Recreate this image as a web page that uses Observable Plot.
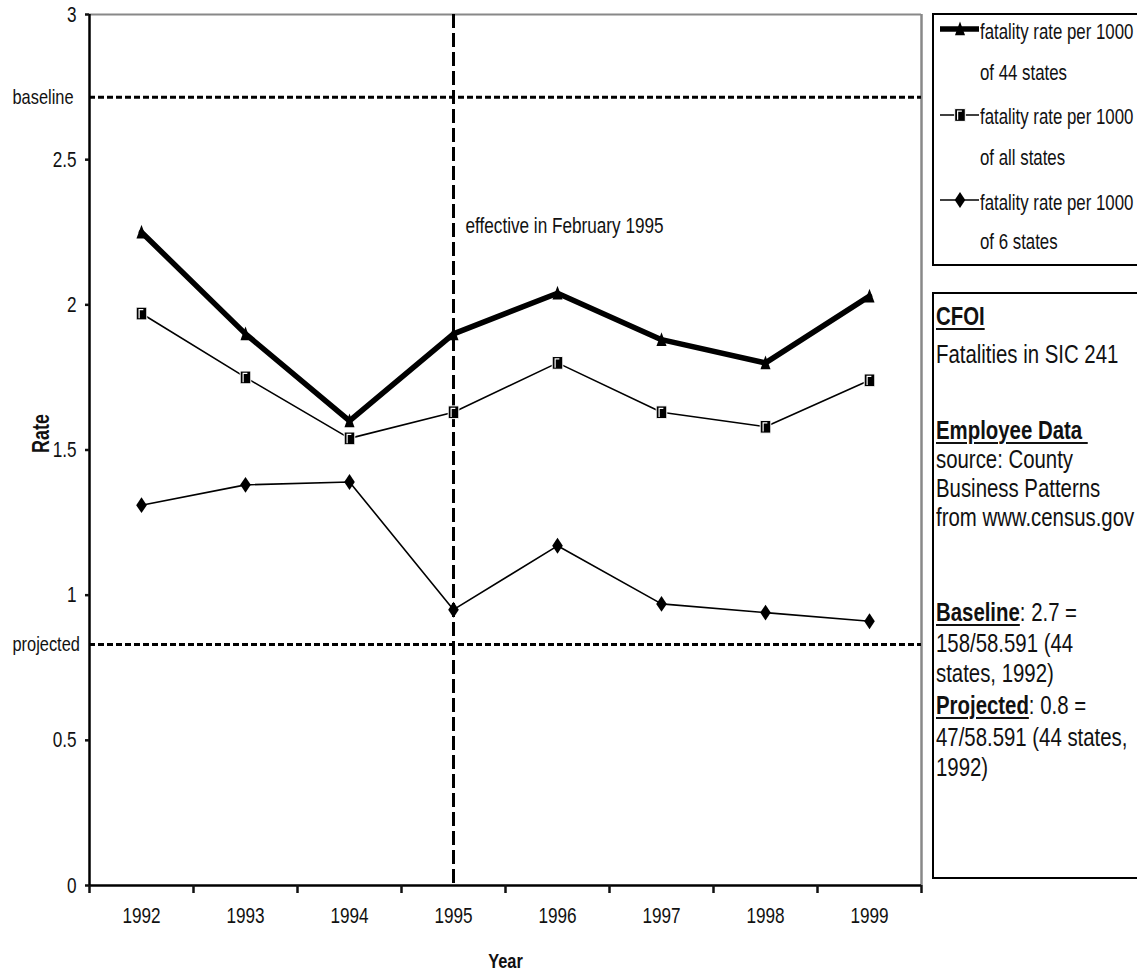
<!DOCTYPE html>
<html><head><meta charset="utf-8">
<script src="https://cdn.jsdelivr.net/npm/d3@7"></script>
<script src="https://cdn.jsdelivr.net/npm/@observablehq/plot@0.6"></script>
<style>
html,body{margin:0;padding:0;background:#fff;overflow:hidden;width:1137px;height:979px;}
body{position:relative;font-family:"Liberation Sans Narrow","Arial Narrow","Liberation Sans",Arial,sans-serif;color:#111;}
#chart{position:absolute;left:0;top:0;}
.box{position:absolute;border:2px solid #000;background:#fff;box-sizing:border-box;}
.ln{position:absolute;white-space:nowrap;line-height:1;transform-origin:0 50%;}
.u{text-decoration:underline;text-decoration-thickness:2px;text-underline-offset:3px;font-weight:bold;}
</style></head><body>
<div id="chart"></div>
<div id="legend" class="box" style="left:932px;top:13px;width:240px;height:253px;"></div>
<div id="notes" class="box" style="left:932px;top:292px;width:240px;height:587px;"></div>
<div id="texts"></div>
<script>
// ---- data ----
const years = [1992, 1993, 1994, 1995, 1996, 1997, 1998, 1999];
const rate44 = [2.25, 1.90, 1.60, 1.90, 2.04, 1.88, 1.80, 2.03];
const rateAll = [1.97, 1.75, 1.54, 1.63, 1.80, 1.63, 1.58, 1.74];
const rate6 = [1.31, 1.38, 1.39, 0.95, 1.17, 0.97, 0.94, 0.91];
const yTicks = [0, 0.5, 1, 1.5, 2, 2.5, 3];
const legendLines = [["fatality rate per 1000", "of 44 states"], ["fatality rate per 1000", "of all states"], ["fatality rate per 1000", "of 6 states"]];
const baselineValue = 2.715;
const projectedValue = 0.83;
const effectiveYear = 1995;
const effectiveLabel = "effective in February 1995";
const effectiveLabelY = 2.27;
const notesLines = [
  {html: '<span class="u">CFOI</span>', c: 316},
  {html: 'Fatalities in SIC 241', c: 354},
  {html: '<span class="u">Employee Data&nbsp;</span>', c: 430},
  {html: 'source: County', c: 459},
  {html: 'Business Patterns', c: 488},
  {html: 'from www.census.gov', c: 517},
  {html: '<span class="u">Baseline</span>: 2.7 =', c: 612},
  {html: '158/58.591 (44', c: 643},
  {html: 'states, 1992)', c: 673},
  {html: '<span class="u">Projected</span>: 0.8 =', c: 705},
  {html: '47/58.591 (44 states,', c: 737},
  {html: '1992)', c: 767}
];

const FONT = '"Liberation Sans Narrow","Arial Narrow","Liberation Sans",Arial,sans-serif';
const NARROW = 0.78;   // horizontal condensing to mimic a narrow face

// ---- symbols ----
const triSym = {draw(ctx, size){const s=Math.sqrt(size/Math.PI);ctx.moveTo(0,-1.4*s);ctx.lineTo(0.95*s,1.2*s);ctx.lineTo(-0.95*s,1.2*s);ctx.closePath();}};
const sqSym = {draw(ctx, size){const s=Math.sqrt(size/Math.PI);ctx.rect(-s,-1.2*s,2*s,2.4*s);}};
const gamSym = {draw(ctx, size){const s=Math.sqrt(size/Math.PI);ctx.moveTo(-0.45*s,0.9*s);ctx.lineTo(-0.45*s,-0.75*s);ctx.lineTo(0.35*s,-0.75*s);}};
const diaSym = {draw(ctx, size){const s=Math.sqrt(size/Math.PI);ctx.moveTo(0,-1.5*s);ctx.lineTo(s,0);ctx.lineTo(0,1.5*s);ctx.lineTo(-s,0);ctx.closePath();}};

const rows = years.map((yr, i) => ({year: yr, r44: rate44[i], rAll: rateAll[i], r6: rate6[i]}));
const bounds = d3.range(years.length + 1).map(i => years[0] - 0.5 + i);
const R = 5.3;

const chart = Plot.plot({
  width: 1137, height: 979,
  marginLeft: 89, marginRight: 216, marginTop: 14, marginBottom: 94,
  x: {domain: [bounds[0], bounds[bounds.length - 1]]},
  y: {domain: [0, 3]},
  style: {fontFamily: FONT, fontSize: "22px", color: "#111", background: "transparent", overflow: "visible"},
  marks: [
    Plot.ruleY([3], {stroke: "#888", strokeWidth: 2}),
    Plot.ruleX([bounds[bounds.length - 1]], {stroke: "#888", strokeWidth: 2.5}),
    Plot.ruleY([baselineValue, projectedValue], {stroke: "#000", strokeWidth: 3, strokeDasharray: "6,3"}),
    Plot.ruleX([effectiveYear], {stroke: "#000", strokeWidth: 3, strokeDasharray: "14,5"}),
    Plot.ruleX([bounds[0]], {stroke: "#000", strokeWidth: 2.5}),
    Plot.ruleY([0], {stroke: "#000", strokeWidth: 2.5}),
    Plot.axisY({ticks: yTicks, tickSize: 4, tickPadding: 9, tickFormat: d => String(d), strokeWidth: 2.5, label: null, fontSize: 22}),
    Plot.axisX({ticks: bounds, tickSize: 8, tickFormat: () => "", strokeWidth: 2.5, label: null}),
    Plot.axisX({ticks: years, tickSize: 0, tickPadding: 22, tickFormat: d => String(d), label: null, fontSize: 22}),
    Plot.text(["Rate"], {frameAnchor: "left", dx: -48, dy: 3, rotate: -90, fontWeight: "bold", fontSize: 23, text: d => d}),
    Plot.text(["Year"], {frameAnchor: "bottom", dy: 82, fontWeight: "bold", fontSize: 21, text: d => d}),
    Plot.text([{v: baselineValue, t: "baseline"}, {v: projectedValue, t: "projected"}], {x: () => bounds[0], y: "v", text: "t", dx: -77, textAnchor: "start", fontSize: 21}),
    Plot.text([{x: effectiveYear, y: effectiveLabelY, t: effectiveLabel}], {x: "x", y: "y", text: "t", dx: 12, textAnchor: "start", fontSize: 22}),
    // series lines
    Plot.lineY(rows, {x: "year", y: "r44", stroke: "#000", strokeWidth: 5.5}),
    Plot.lineY(rows, {x: "year", y: "rAll", stroke: "#000", strokeWidth: 1.6}),
    Plot.lineY(rows, {x: "year", y: "r6", stroke: "#000", strokeWidth: 1.6}),
    Plot.dot(rows, {x: "year", y: "r44", symbol: triSym, r: R, fill: "#000", stroke: "none"}),
    Plot.dot(rows, {x: "year", y: "rAll", symbol: sqSym, r: R, fill: "#000", stroke: "#fff", strokeWidth: 1}),
    Plot.dot(rows, {x: "year", y: "rAll", symbol: gamSym, r: R, fill: "none", stroke: "#fff", strokeWidth: 1.2}),
    Plot.dot(rows, {x: "year", y: "r6", symbol: diaSym, r: R, fill: "#000", stroke: "none"})
  ]
});
document.getElementById("chart").appendChild(chart);

// condense every svg text horizontally (no narrow face installed)
chart.querySelectorAll("text").forEach(t => {
  const len = t.getComputedTextLength();
  if (len > 0) {
    t.setAttribute("textLength", (len * NARROW).toFixed(2));
    t.setAttribute("lengthAdjust", "spacingAndGlyphs");
  }
});

// ---- legend ----
const texts = document.getElementById("texts");
const legendCenters = [[32, 73], [117, 158], [203, 242]];
const swatchY = [29, 115, 200];
const swatchSyms = [triSym, sqSym, diaSym];
const swatchW = [5.5, 1.6, 1.6];
legendLines.forEach((lines, i) => {
  lines.forEach((t, j) => {
    const d = document.createElement("div");
    d.className = "ln";
    d.style.left = "980px";
    d.style.fontSize = "22px";
    d.style.top = (legendCenters[i][j] - 11) + "px";
    d.style.transform = "scaleX(0.765)";
    d.textContent = t;
    texts.appendChild(d);
  });
  const svg = d3.select(texts).append("svg")
    .style("position", "absolute").style("left", "938px").style("top", (swatchY[i] - 12) + "px")
    .attr("width", 44).attr("height", 24);
  svg.append("line").attr("x1", 2).attr("x2", 41).attr("y1", 12).attr("y2", 12).attr("stroke", "#000").attr("stroke-width", swatchW[i]);
  svg.append("path").attr("transform", "translate(22,12)").attr("d", d3.symbol(swatchSyms[i], R * R * Math.PI)())
    .attr("fill", "#000").attr("stroke", i === 1 ? "#fff" : "none").attr("stroke-width", 1);
  if (i === 1) svg.append("path").attr("transform", "translate(22,12)").attr("d", d3.symbol(gamSym, R * R * Math.PI)())
    .attr("fill", "none").attr("stroke", "#fff").attr("stroke-width", 1.2);
});

// ---- notes ----
notesLines.forEach(l => {
  const d = document.createElement("div");
  d.className = "ln";
  d.style.left = "936px";
  d.style.fontSize = "25px";
  d.style.top = (l.c - 12.5) + "px";
  d.style.transform = "scaleX(0.815)";
  d.innerHTML = l.html;
  texts.appendChild(d);
});
</script>
</body></html>
